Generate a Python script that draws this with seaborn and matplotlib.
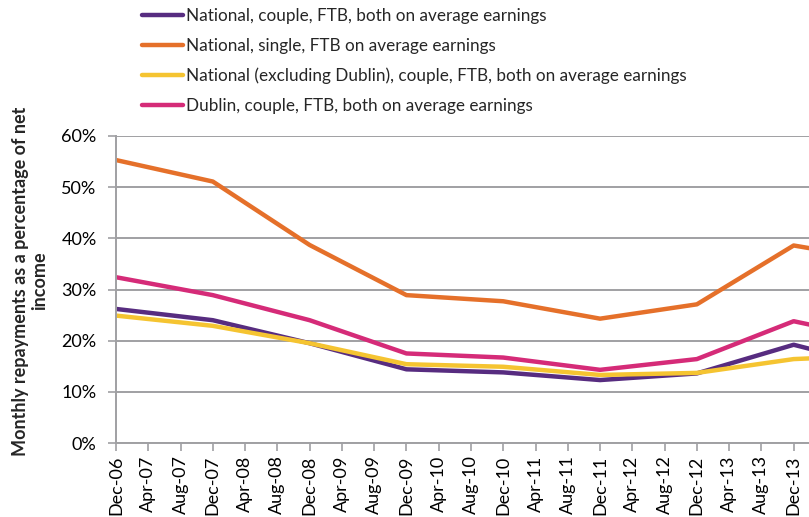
import matplotlib
matplotlib.use("Agg")
import matplotlib.pyplot as plt
import seaborn as sns
import pandas as pd
import numpy as np

# ---- data ----
periods = ["Dec-06", "Dec-07", "Dec-08", "Dec-09", "Dec-10", "Dec-11", "Dec-12", "Dec-13", "Mar-14"]
national_couple = [26.2, 24.0, 19.5, 14.4, 13.8, 12.3, 13.6, 19.2, 18.0]
national_single = [55.3, 51.1, 38.7, 28.9, 27.7, 24.3, 27.1, 38.6, 37.8]
national_excl_dublin = [24.9, 22.9, 19.5, 15.4, 14.9, 13.3, 13.7, 16.4, 16.6]
dublin_couple = [32.4, 28.9, 24.0, 17.5, 16.7, 14.3, 16.4, 23.8, 22.8]

series_names = [
    "National, couple, FTB, both on average earnings",
    "National, single, FTB on average earnings",
    "National (excluding Dublin), couple, FTB, both on average earnings",
    "Dublin, couple, FTB, both on average earnings",
]
series_colors = ["#572C80", "#E5702A", "#F5C431", "#D52B78"]

tick_labels = ["Dec-06", "Apr-07", "Aug-07", "Dec-07", "Apr-08", "Aug-08", "Dec-08",
               "Apr-09", "Aug-09", "Dec-09", "Apr-10", "Aug-10", "Dec-10", "Apr-11",
               "Aug-11", "Dec-11", "Apr-12", "Aug-12", "Dec-12", "Apr-13", "Aug-13", "Dec-13"]
y_ticks = [0, 10, 20, 30, 40, 50, 60]


def month_index(lbl):
    d = pd.to_datetime(lbl, format="%b-%y")
    return (d.year - 2006) * 12 + d.month - 12


rows = []
for name, vals in zip(series_names, [national_couple, national_single, national_excl_dublin, dublin_couple]):
    for p, v in zip(periods, vals):
        rows.append({"month": month_index(p), "value": v, "series": name})
df = pd.DataFrame(rows)

sns.set_theme(style="white")
plt.rcParams["font.family"] = ["Lato", "DejaVu Sans"]

fig = plt.figure(figsize=(8.09, 5.17), dpi=100)
ax = fig.add_axes([116 / 809, 1 - 443 / 517, 1 - 116 / 809, (443 - 136) / 517])

sns.lineplot(data=df, x="month", y="value", hue="series", hue_order=series_names,
             palette=dict(zip(series_names, series_colors)), linewidth=3.2, ax=ax,
             legend=True, clip_on=True)

handles, labels = ax.get_legend_handles_labels()
ax.get_legend().remove()
leg = fig.legend(handles, labels, loc="upper left", bbox_to_anchor=(142 / 809, 1.0 - 8 / 517),
                 frameon=False, fontsize=12.3, handlelength=2.4, handletextpad=0.15,
                 labelspacing=0.8, borderaxespad=0, borderpad=0)
for h in leg.legend_handles:
    h.set_linewidth(3.2)

ax.set_xlim(0, 85.9)
ax.set_ylim(0, 60)
ax.set_xticks([month_index(t) for t in tick_labels])
ax.set_xticklabels(tick_labels, rotation=90, fontsize=13, color="black")
ax.set_yticks(y_ticks)
ax.set_yticklabels([f"{v}%" for v in y_ticks], fontsize=13, color="black")
ax.set_xlabel("")
ax.set_ylabel("")

ax.grid(axis="y", color="#A0A0A3", linewidth=1.4)
ax.grid(axis="x", visible=False)
ax.set_axisbelow(True)
for s in ["top", "right"]:
    ax.spines[s].set_visible(False)
for s in ["left", "bottom"]:
    ax.spines[s].set_color("#A0A0A3")
    ax.spines[s].set_linewidth(1.4)
ax.tick_params(axis="both", which="major", direction="out", length=6, width=1.2,
               color="#A0A0A3", left=True, bottom=True)
ax.tick_params(axis="y", pad=8)
ax.tick_params(axis="x", pad=3)

fig.text(30 / 809, 1 - 281 / 517, "Monthly repayments as a percentage of net\nincome",
         rotation=90, ha="center", va="center", fontsize=13, fontweight="bold",
         multialignment="center", linespacing=1.15)

fig.savefig("out.png", dpi=100)
